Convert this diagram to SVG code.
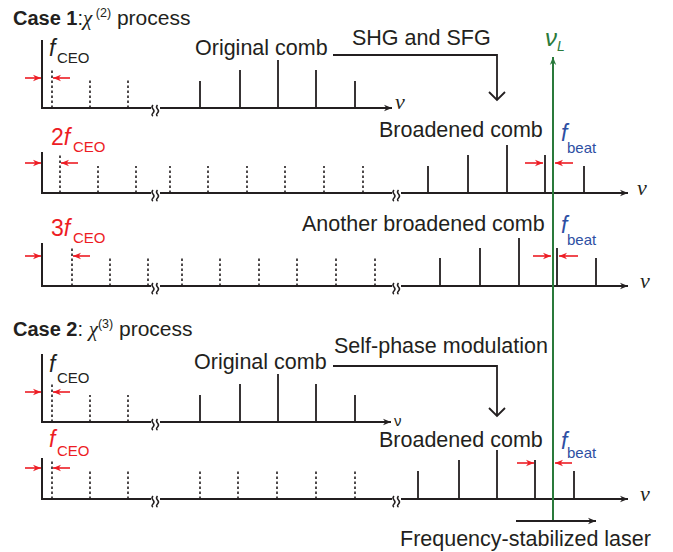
<svg xmlns="http://www.w3.org/2000/svg" width="673" height="552" viewBox="0 0 673 552">
<style>
text{font-family:"Liberation Sans",Arial,sans-serif;fill:#231f20}
.lbl{font-size:21.5px}
.ttl{font-size:20px}
.ax{stroke:#231f20;stroke-width:2;fill:none}
.ln{stroke:#231f20;stroke-width:1.8;fill:none}
.dt{stroke:#231f20;stroke-width:1.6;stroke-dasharray:2.5 2.5;fill:none}
.red{stroke:#ed1c24;stroke-width:1.6;fill:none}
.red-t{fill:#ed1c24}
.blue-t{fill:#2e4fa3}
.brk{stroke:#231f20;stroke-width:1.5;fill:none}
.nu{font-family:"Liberation Serif","Times New Roman",serif;font-style:italic;font-size:22px}
</style>
<defs>
<marker id="ah" viewBox="0 0 10 10" refX="10" refY="5" markerWidth="10" markerHeight="8" markerUnits="userSpaceOnUse" orient="auto"><path d="M0,1 L10,5 L0,9 L3,5 Z" fill="#231f20"/></marker>
<marker id="rh" viewBox="0 0 10 10" refX="10" refY="5" markerWidth="9" markerHeight="8" markerUnits="userSpaceOnUse" orient="auto"><path d="M0,1 L10,5 L0,9 L3,5 Z" fill="#ed1c24"/></marker>
<marker id="gh" viewBox="0 0 10 10" refX="10" refY="5" markerWidth="10" markerHeight="8" markerUnits="userSpaceOnUse" orient="auto"><path d="M0,1 L10,5 L0,9 L3,5 Z" fill="#2a7a3b"/></marker>
<g id="brkmark"><rect x="-4" y="-6" width="9" height="12" fill="#fff"/><path class="brk" d="M-2,-4 q-2,2 0,4 q2,2 0,4 q-2,2 0,3 M2.5,-4 q-2,2 0,4 q2,2 0,4 q-2,2 0,3"/></g>
</defs>

<!-- Headings -->
<g id="case1-title"><text class="ttl" x="13" y="25"><tspan font-weight="bold">Case 1</tspan>:<tspan font-family="Liberation Serif,serif" font-style="italic" font-size="21">χ</tspan><tspan font-size="12.5" dy="-8"> (2)</tspan><tspan dy="8" font-size="21"> process</tspan></text></g>
<g id="case2-title"><text class="ttl" x="13" y="336"><tspan font-weight="bold">Case 2</tspan>: <tspan font-family="Liberation Serif,serif" font-style="italic" font-size="21">χ</tspan><tspan font-size="12.5" dy="-8">(3)</tspan><tspan dy="8" font-size="21"> process</tspan></text></g>

<!-- Row 1: original comb case 1 -->
<g id="row1">
<path class="ax" d="M42,40 V108 H153"/>
<path class="ax" d="M157,108 H392" marker-end="url(#ah)"/>
<use href="#brkmark" x="155" y="109"/>
<path class="dt" d="M52,108V69 M90,108V80 M128,108V80"/>
<path class="ln" d="M200,108V81 M240,108V70 M278,108V60 M316,108V70 M355,108V81"/>
<path class="red" d="M25,78H41" marker-end="url(#rh)"/>
<path class="red" d="M70,78H53" marker-end="url(#rh)"/>
<text x="49" y="56" font-size="23" font-style="italic">f</text><text x="57" y="63" font-size="15">CEO</text>
<text class="lbl" x="195" y="55">Original comb</text>
<text class="nu" x="395" y="109">ν</text>
</g>

<!-- SHG arrow -->
<g id="shg">
<text class="lbl" x="352" y="45">SHG and SFG</text>
<path class="ln" d="M333,55H497V100"/>
<path class="ln" d="M489,92L497,100L505,92"/>
</g>

<!-- Row 2 -->
<g id="row2">
<path class="ax" d="M42,152V193H153"/>
<path class="ax" d="M157,193H394"/>
<path class="ax" d="M398,193H628" marker-end="url(#ah)"/>
<use href="#brkmark" x="155" y="194"/>
<use href="#brkmark" x="396" y="194"/>
<path class="dt" d="M60,193V154 M98,193V166 M136,193V166 M170,193V166 M208,193V166 M247,193V166 M285,193V166 M324,193V166 M363,193V166"/>
<path class="ln" d="M428,193V166 M468,193V155 M507,193V145 M545,193V155 M584,193V166"/>
<path class="red" d="M25,163H41" marker-end="url(#rh)"/>
<path class="red" d="M78,163H61" marker-end="url(#rh)"/>
<path class="red" d="M525,163H543" marker-end="url(#rh)"/>
<path class="red" d="M573,163H555" marker-end="url(#rh)"/>
<text x="51" y="145" font-size="23" class="red-t">2<tspan font-style="italic">f</tspan></text><text x="73" y="152" font-size="15" class="red-t">CEO</text>
<text class="lbl" x="379" y="137">Broadened comb</text>
<text x="561" y="141" font-size="23" font-style="italic" class="blue-t">f</text><text x="567" y="153" font-size="15" class="blue-t">beat</text>
<text class="nu" x="637" y="195">ν</text>
</g>

<!-- Row 3 -->
<g id="row3">
<path class="ax" d="M42,243V286H153"/>
<path class="ax" d="M157,286H394"/>
<path class="ax" d="M398,286H628" marker-end="url(#ah)"/>
<use href="#brkmark" x="155" y="287"/>
<use href="#brkmark" x="396" y="287"/>
<path class="dt" d="M72,286V247 M110,286V258 M148,286V258 M182,286V258 M220,286V258 M259,286V258 M297,286V258 M336,286V258 M375,286V258"/>
<path class="ln" d="M440,286V258 M480,286V248 M519,286V238 M557,286V248 M596,286V258"/>
<path class="red" d="M25,256H41" marker-end="url(#rh)"/>
<path class="red" d="M90,256H73" marker-end="url(#rh)"/>
<path class="red" d="M533,256H551" marker-end="url(#rh)"/>
<path class="red" d="M578,256H559" marker-end="url(#rh)"/>
<text x="51" y="236" font-size="23" class="red-t">3<tspan font-style="italic">f</tspan></text><text x="73" y="243" font-size="15" class="red-t">CEO</text>
<text class="lbl" x="302" y="231">Another broadened comb</text>
<text x="561" y="233" font-size="23" font-style="italic" class="blue-t">f</text><text x="567" y="245" font-size="15" class="blue-t">beat</text>
<text class="nu" x="640" y="288">ν</text>
</g>

<!-- Row 4 -->
<g id="row4">
<path class="ax" d="M42,354V422H153"/>
<path class="ax" d="M157,422H391" marker-end="url(#ah)"/>
<use href="#brkmark" x="155" y="423"/>
<path class="dt" d="M52,422V383 M90,422V395 M128,422V395"/>
<path class="ln" d="M200,422V395 M240,422V384 M278,422V374 M316,422V384 M355,422V395"/>
<path class="red" d="M25,392H41" marker-end="url(#rh)"/>
<path class="red" d="M70,392H53" marker-end="url(#rh)"/>
<text x="49" y="372" font-size="23" font-style="italic">f</text><text x="57" y="383" font-size="15">CEO</text>
<text class="lbl" x="194" y="369">Original comb</text>
<text x="394" y="426" font-size="15">ν</text>
</g>

<!-- SPM arrow -->
<g id="spm">
<text class="lbl" x="334" y="353">Self-phase modulation</text>
<path class="ln" d="M333,366H497V416"/>
<path class="ln" d="M489,408L497,416L505,408"/>
</g>

<!-- Row 5 -->
<g id="row5">
<path class="ax" d="M42,458V499H153"/>
<path class="ax" d="M157,499H394"/>
<path class="ax" d="M398,499H628" marker-end="url(#ah)"/>
<use href="#brkmark" x="155" y="500"/>
<use href="#brkmark" x="396" y="500"/>
<path class="dt" d="M52,499V460 M90,499V471 M128,499V471 M200,499V471 M238,499V471 M277,499V471 M316,499V471 M355,499V471"/>
<path class="ln" d="M418,499V471 M459,499V460 M497,499V450 M535,499V460 M574,499V471"/>
<path class="red" d="M25,468H41" marker-end="url(#rh)"/>
<path class="red" d="M70,468H53" marker-end="url(#rh)"/>
<path class="red" d="M517,463H534" marker-end="url(#rh)"/>
<path class="red" d="M572,463H555" marker-end="url(#rh)"/>
<text x="49" y="447" font-size="23" font-style="italic" class="red-t">f</text><text x="57" y="456" font-size="15" class="red-t">CEO</text>
<text class="lbl" x="379" y="447">Broadened comb</text>
<text x="561" y="449" font-size="23" font-style="italic" class="blue-t">f</text><text x="567" y="458" font-size="15" class="blue-t">beat</text>
<text class="nu" x="640" y="501">ν</text>
</g>

<!-- Laser -->
<g id="laser">
<path d="M553,521V57" stroke="#2a7a3b" stroke-width="2" fill="none" marker-end="url(#gh)"/>
<text x="545" y="46" font-family="Liberation Serif,serif" font-style="italic" font-size="24" style="fill:#2a7a3b">ν</text>
<text x="557" y="51" font-size="14" font-style="italic" style="fill:#2a7a3b">L</text>
<path class="ln" d="M516,521H596" marker-end="url(#ah)"/>
<text class="lbl" x="400" y="546">Frequency-stabilized laser</text>
</g>
</svg>
